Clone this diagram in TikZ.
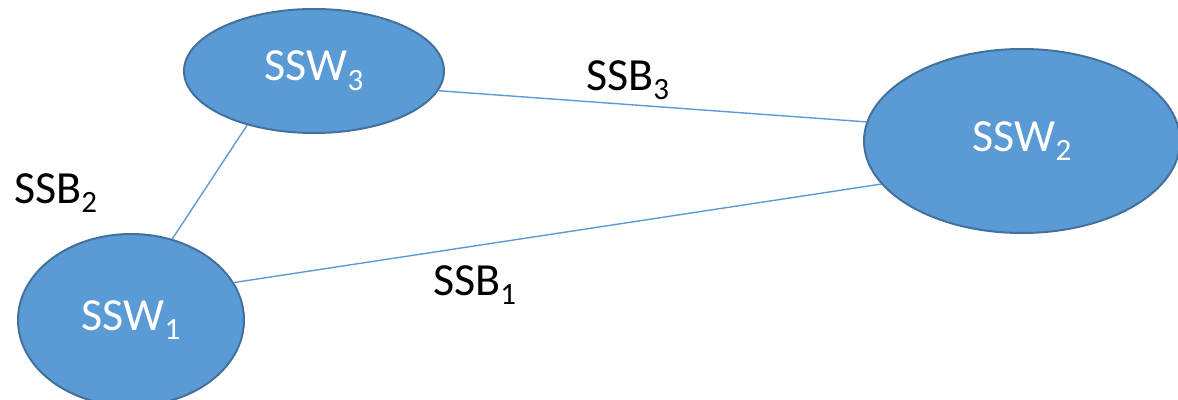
\documentclass[tikz,border=0pt]{standalone}
\usepackage{fontspec}
\setmainfont{Carlito}
\usetikzlibrary{shapes.geometric}
\definecolor{nodefill}{HTML}{5B9BD5}
\definecolor{nodeedge}{HTML}{41719C}
\definecolor{linkcol}{HTML}{5B9BD5}
\newcommand\mysub[1]{\raisebox{-0.21em}{\fontsize{31}{31}\selectfont #1}}
\tikzset{
  sw/.style={ellipse, fill=nodefill, draw=nodeedge, line width=2pt, inner sep=0pt,
    text=white, font=\fontsize{46}{50}\selectfont},
  link/.style={draw=linkcol, line width=1.4pt},
  lbl/.style={anchor=base west, inner sep=0pt, text=black, font=\fontsize{46}{50}\selectfont}
}
\begin{document}
\begin{tikzpicture}[x=1pt,y=-1pt]
\useasboundingbox (0,0) rectangle (1178,399);
\node[sw, minimum width=260pt, minimum height=124pt] (s3) at (314,71) {SSW\mysub{3}};
\node[sw, minimum width=316pt, minimum height=184pt] (s2) at (1022,141) {SSW\mysub{2}};
\node[sw, minimum width=226pt, minimum height=172pt] (s1) at (131,320) {SSW\mysub{1}};
\draw[link] (s3.219.8) -- (s1.63.4);
\draw[link] (s3.-9.7) -- (s2.173);
\draw[link] (s1.20.9) -- (s2.197.8);
\node[lbl] (b3) at (586,90) {SSB\mysub{3}};
\node[lbl] (b2) at (14,203) {SSB\mysub{2}};
\node[lbl] (b1) at (433,295) {SSB\mysub{1}};
\end{tikzpicture}
\end{document}
